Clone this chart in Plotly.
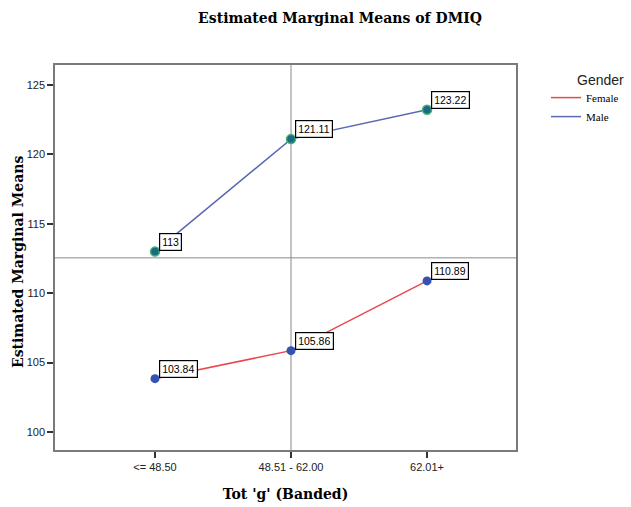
import plotly.graph_objects as go

categories = ["<= 48.50", "48.51 - 62.00", "62.01+"]
female = [103.84, 105.86, 110.89]
male = [113.00, 121.11, 123.22]
female_labels = ["103.84", "105.86", "110.89"]
male_labels = ["113", "121.11", "123.22"]
y_ticks = [100, 105, 110, 115, 120, 125]

serif = "DejaVu Serif, serif"
lserif = "Liberation Serif, Times New Roman, serif"
sans = "Liberation Sans, Arial, sans-serif"

fig = go.Figure()
fig.add_trace(go.Scatter(x=categories, y=female, mode="lines", name="Female",
                         line=dict(color="#e8484c", width=1.5)))
fig.add_trace(go.Scatter(x=categories, y=male, mode="lines", name="Male",
                         line=dict(color="#5a68b4", width=1.5)))
fig.add_trace(go.Scatter(x=categories, y=female, mode="markers", showlegend=False,
                         marker=dict(color="#3453b0", size=9, line=dict(width=0))))
fig.add_trace(go.Scatter(x=categories, y=male, mode="markers", showlegend=False,
                         marker=dict(color="#1e6a86", size=9, line=dict(color="#3fb370", width=1.5))))

for vals, labels in ((female, female_labels), (male, male_labels)):
    for i, (v, t) in enumerate(zip(vals, labels)):
        fig.add_annotation(x=i, y=v, text=t, xref="x", yref="y", showarrow=False,
                           xanchor="left", yanchor="bottom", xshift=4, yshift=1,
                           bordercolor="black", borderwidth=1.2, borderpad=2, bgcolor="white",
                           font=dict(family=sans, size=10.5, color="black"))

fig.add_annotation(text="Gender", xref="paper", yref="paper", x=(575 - 55) / 461, y=1 - (80 - 65) / 385,
                   xanchor="left", yanchor="middle", showarrow=False,
                   font=dict(family=sans, size=14, color="#222"))

# y-axis title
fig.add_annotation(text="<b>Estimated Marginal Means</b>", xref="paper", yref="paper",
                   x=(18 - 55) / 461, y=1 - (262 - 65) / 385, xanchor="center", yanchor="middle",
                   textangle=-90, showarrow=False,
                   font=dict(family=serif, size=14, color="black"))

# reference lines
fig.add_shape(type="line", xref="x", yref="paper", x0=1, x1=1, y0=0, y1=1,
              line=dict(color="#8a8a8a", width=1), layer="below")
fig.add_shape(type="line", xref="paper", yref="y", x0=0, x1=1, y0=112.55, y1=112.55,
              line=dict(color="#8a8a8a", width=1), layer="below")

fig.update_layout(
    width=631, height=507,
    margin=dict(l=55, r=115, t=65, b=57, autoexpand=False),
    paper_bgcolor="white", plot_bgcolor="white",
    title=dict(text="<b>Estimated Marginal Means of DMIQ</b>", x=340 / 631, xanchor="center",
               y=1 - 18 / 507, yanchor="middle", font=dict(family=serif, size=14, color="black")),
    legend=dict(x=(546 - 55) / 461, y=0.953, xanchor="left", yanchor="top",
                font=dict(family=lserif, size=11, color="black"),
                bgcolor="rgba(0,0,0,0)", itemwidth=30, tracegroupgap=0),
    showlegend=True,
)
fig.update_xaxes(type="category", range=[-0.735, 2.654], showgrid=False, zeroline=False,
                 showline=True, mirror=True, linecolor="#7a7a7a", linewidth=1.5,
                 ticks="outside", ticklen=6, tickcolor="#333", tickwidth=1.5,
                 tickfont=dict(family=sans, size=11, color="#222"),
                 title=dict(text="<b>Tot 'g' (Banded)</b>", font=dict(family=serif, size=14, color="black"),
                            standoff=17))
fig.update_yaxes(range=[98.7, 126.45], tickvals=y_ticks, showgrid=False, zeroline=False,
                 showline=True, mirror=True, linecolor="#7a7a7a", linewidth=1.5,
                 ticks="outside", ticklen=6, tickcolor="#333", tickwidth=1.5,
                 tickfont=dict(family=sans, size=11, color="#222"))

fig.write_html("out.html")
